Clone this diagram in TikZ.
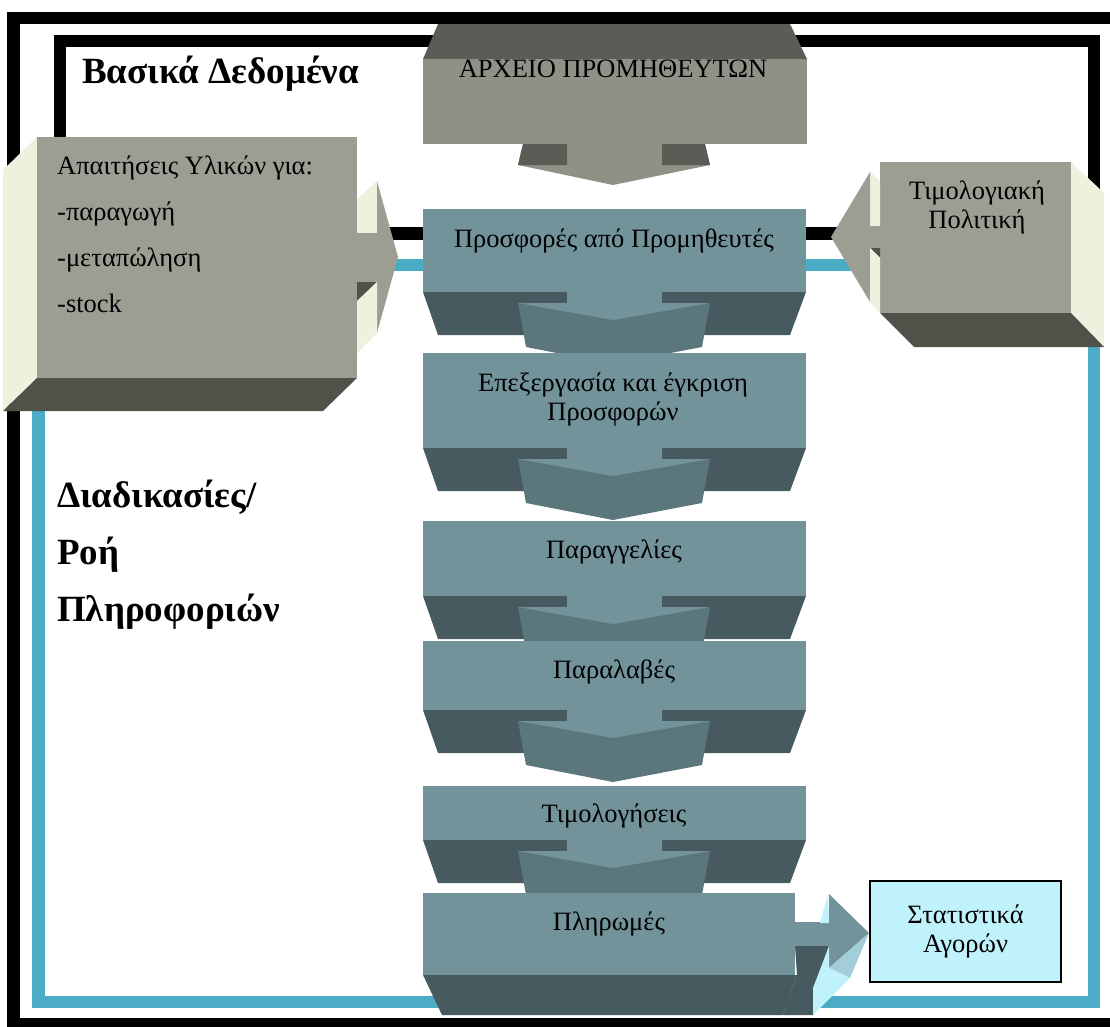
\documentclass[tikz,border=0pt]{standalone}
\usepackage{fontspec}
\setmainfont{Liberation Serif}
\definecolor{stone}{HTML}{9C9E93}
\definecolor{stonefile}{HTML}{8F9187}
\definecolor{stonedark}{HTML}{50524A}
\definecolor{stonetop}{HTML}{5B5C55}
\definecolor{cream}{HTML}{EDF2DF}
\definecolor{slate}{HTML}{72939A}
\definecolor{slatedark}{HTML}{475A5F}
\definecolor{slatemid}{HTML}{5C777C}
\definecolor{frameblue}{HTML}{4BACC6}
\definecolor{statfill}{HTML}{BFF2FB}
\definecolor{statside}{HTML}{A3CDD9}

\begin{document}
\begin{tikzpicture}[x=1pt, y=-1pt,
    frame/.style={line width=12.5pt},
    txt/.style={font=\fontsize{26.5}{28.5}\selectfont, align=center, inner sep=0pt, anchor=base},
    listtxt/.style={txt, anchor=base west},
    heading/.style={font=\fontsize{37}{42}\selectfont\bfseries, inner sep=0pt, anchor=base west},
]
\useasboundingbox (0,0) rectangle (1110,1026);
\clip (0,0) rectangle (1110,1026);

% frames
\draw[frame] (13.5,18) rectangle (1130,1024);
\draw[frame] (60,41) rectangle (1094,233.5);
\draw[frame, frameblue] (38.5,265) rectangle (1094,1002);

% supplier file
\fill[stonetop] (438,24) -- (790,24) -- (807,59) -- (423,59) -- cycle;
\fill[stonefile] (423,59) rectangle (807,144);
\fill[stonefile] (523,144) -- (705,144) -- (710,165) -- (613,185) -- (518,165) -- cycle;
\fill[stonetop] (523,144) -- (567,144) -- (567,165) -- (518,165) -- cycle;
\fill[stonetop] (662,144) -- (705,144) -- (710,165) -- (662,165) -- cycle;

% material needs box
\fill[cream] (37,137) -- (37,378) -- (3,411) -- (3,170) -- cycle;
\fill[stonedark] (37,378) -- (357,378) -- (323,411) -- (3,411) -- cycle;
\fill[stone] (37,137) rectangle (357,378);
\fill[cream] (357,199) -- (377,181) -- (377,233) -- (357,233) -- cycle;
\fill[stone] (357,233) -- (377,233) -- (377,181) -- (398,257) -- (377,333) -- (377,282) -- (357,282) -- cycle;
\fill[stonedark] (357,282) -- (377,282) -- (357,301) -- cycle;
\fill[cream] (357,301) -- (377,282) -- (377,333) -- (357,353) -- cycle;

% pricing policy box
\fill[cream] (1071,162) -- (1104,193) -- (1104,347) -- (1071,313) -- cycle;
\fill[stonedark] (880,313) -- (1071,313) -- (1104,347) -- (914,347) -- cycle;
\fill[stone] (880,162) rectangle (1071,313);
\fill[cream] (870,172) -- (880,181) -- (880,226) -- (870,226) -- cycle;
\fill[stone] (880,226) -- (870,226) -- (870,172) -- (831,237) -- (870,302) -- (870,248) -- (880,248) -- cycle;
\fill[stonedark] (870,248) -- (880,248) -- (880,258) -- cycle;
\fill[cream] (870,248) -- (880,258) -- (880,313) -- (870,302) -- cycle;

% flow column
\foreach \top/\bot in {209/292, 353/448, 521/596, 641/710, 786/840} {
  \fill[slate] (423,\top) rectangle (806,\bot);
  \fill[slatedark] (423,\bot) -- (806,\bot) -- (790,\bot+43) -- (438,\bot+43) -- cycle;
  \fill[slate] (567,\bot) rectangle (662,\bot+11);
  \fill[slatemid] (518,\bot+11) -- (710,\bot+11) -- (702,\bot+55) -- (613,\bot+72) -- (526,\bot+55) -- cycle;
  \fill[slate] (518,\bot+11) -- (710,\bot+11) -- (613,\bot+28) -- cycle;
}

% payments and arrow to market statistics
\fill[slatedark] (795,946) -- (829,946) -- (829,988) -- (813,1015) -- (783,1015) -- (797,975) -- cycle;
\fill[slatedark] (423,975) -- (797,975) -- (783,1015) -- (442,1015) -- cycle;
\fill[slate] (423,893) rectangle (795,975);
\fill[slate] (795,922) rectangle (829,946);
\fill[statfill] (828,894) -- (820,923) -- (829,923) -- cycle;
\fill[slate] (829,894) -- (869,933) -- (829,968) -- cycle;
\fill[statside] (869,933) -- (850,978) -- (829,968) -- cycle;
\fill[statfill] (829,946) -- (829,968) -- (850,978) -- (813,1015) -- (813,988) -- cycle;

\node[draw, line width=2pt, fill=statfill, minimum width=191, minimum height=101,
  align=center, inner sep=0pt, font=\fontsize{26.5}{29}\selectfont] (stats) at (965.5,931)
  {Στατιστικά\\Αγορών};

% texts
\node[heading] (basic) at (82,83) {Βασικά Δεδομένα};
\node[heading] (procs) at (57,507) {Διαδικασίες/};
\node[heading] (flow) at (57,564) {Ροή};
\node[heading] (info) at (57,621) {Πληροφοριών};

\node[txt] (supfile) at (613,77) {ΑΡΧΕΙΟ ΠΡΟΜΗΘΕΥΤΩΝ};
\node[listtxt] (needs) at (57,174) {Απαιτήσεις Υλικών για:};
\node[listtxt] (prod) at (57,220) {-παραγωγή};
\node[listtxt] (resale) at (57,266) {-μεταπώληση};
\node[listtxt] (stock) at (57,312) {-stock};
\node[txt] (pricing) at (977,228) {Τιμολογιακή\\Πολιτική};

\node[txt] (offers) at (614,247) {Προσφορές από Προμηθευτές};
\node[txt] (review) at (613,420) {Επεξεργασία και έγκριση\\Προσφορών};
\node[txt] (orders) at (614,558) {Παραγγελίες};
\node[txt] (receipts) at (614,678) {Παραλαβές};
\node[txt] (invoices) at (614,822) {Τιμολογήσεις};
\node[txt] (payments) at (609,930) {Πληρωμές};
\end{tikzpicture}
\end{document}
